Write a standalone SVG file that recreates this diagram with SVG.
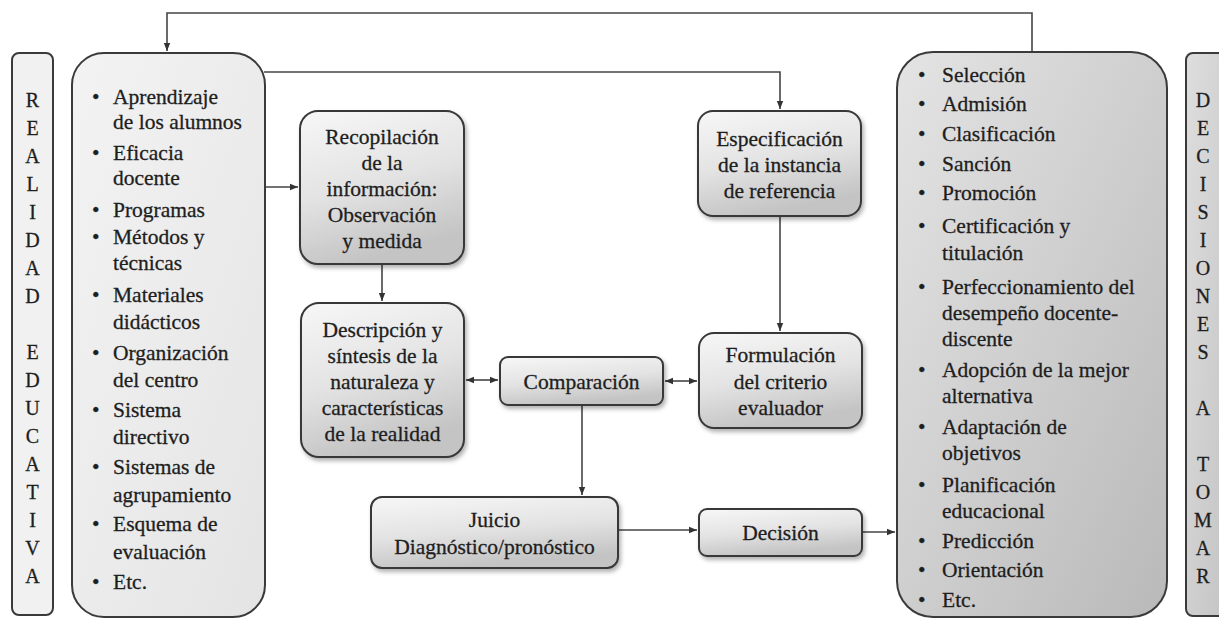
<svg xmlns="http://www.w3.org/2000/svg" width="1219" height="619" viewBox="0 0 1219 619" font-family="Liberation Serif, Times New Roman, serif">
<style>
text{font-size:21.5px;fill:#1e1e1e;stroke:#1e1e1e;stroke-width:0.3px}
.c{text-anchor:middle}
.box{stroke:#383838;stroke-width:2;fill:url(#gBox);filter:url(#sh)}
.conn{fill:none;stroke:#454545;stroke-width:1.6}
.ltr{text-anchor:middle;font-size:20px}
</style>
<defs>
<linearGradient id="gBox" x1="0" y1="0" x2="0.3" y2="1">
<stop offset="0" stop-color="#f7f7f7"/><stop offset="0.55" stop-color="#e3e3e3"/><stop offset="1" stop-color="#c4c4c4"/>
</linearGradient>
<linearGradient id="gLeft" x1="0" y1="0" x2="1" y2="1">
<stop offset="0" stop-color="#f3f3f3"/><stop offset="1" stop-color="#e4e4e4"/>
</linearGradient>
<linearGradient id="gRight" x1="0" y1="0" x2="1" y2="1">
<stop offset="0" stop-color="#e4e4e4"/><stop offset="1" stop-color="#b9b9b9"/>
</linearGradient>
<linearGradient id="gRN" x1="0" y1="0" x2="1" y2="1">
<stop offset="0" stop-color="#dedede"/><stop offset="1" stop-color="#c2c2c2"/>
</linearGradient>
<filter id="sh" x="-10%" y="-10%" width="130%" height="130%">
<feDropShadow dx="2" dy="3" stdDeviation="2" flood-color="#000" flood-opacity="0.3"/>
</filter>
<marker id="ah" viewBox="0 0 10 10" refX="10" refY="5" markerWidth="9" markerHeight="8" orient="auto-start-reverse" markerUnits="userSpaceOnUse">
<path d="M0,1 L10,5 L0,9 z" fill="#333"/>
</marker>
</defs>
<rect width="1219" height="619" fill="#ffffff"/>

<g id="connectors">
<path class="conn" d="M1032,53 V13 H167 V51" marker-end="url(#ah)"/>
<path class="conn" d="M264,72 H780 V109" marker-end="url(#ah)"/>
<path class="conn" d="M265,187 H298" marker-end="url(#ah)"/>
<path class="conn" d="M382,264 V301" marker-end="url(#ah)"/>
<path class="conn" d="M466,380 H498" marker-start="url(#ah)" marker-end="url(#ah)"/>
<path class="conn" d="M665,381 H697" marker-start="url(#ah)" marker-end="url(#ah)"/>
<path class="conn" d="M780,216 V331" marker-end="url(#ah)"/>
<path class="conn" d="M582,405 V495" marker-end="url(#ah)"/>
<path class="conn" d="M618,530 H697" marker-end="url(#ah)"/>
<path class="conn" d="M862,532 H895" marker-end="url(#ah)"/>
</g>

<g id="realidad-educativa">
<rect x="12" y="53" width="41" height="562" rx="7" fill="#f1f1f1" stroke="#3a3a3a" stroke-width="2"/>
<text class="ltr" x="32.5" y="107">R</text>
<text class="ltr" x="32.5" y="135">E</text>
<text class="ltr" x="32.5" y="163">A</text>
<text class="ltr" x="32.5" y="191">L</text>
<text class="ltr" x="32.5" y="219">I</text>
<text class="ltr" x="32.5" y="247">D</text>
<text class="ltr" x="32.5" y="275">A</text>
<text class="ltr" x="32.5" y="303">D</text>
<text class="ltr" x="32.5" y="359">E</text>
<text class="ltr" x="32.5" y="387">D</text>
<text class="ltr" x="32.5" y="415">U</text>
<text class="ltr" x="32.5" y="443">C</text>
<text class="ltr" x="32.5" y="471">A</text>
<text class="ltr" x="32.5" y="499">T</text>
<text class="ltr" x="32.5" y="527">I</text>
<text class="ltr" x="32.5" y="555">V</text>
<text class="ltr" x="32.5" y="583">A</text>
</g>

<g id="realidad-lista">
<rect x="72" y="53" width="193" height="564" rx="32" fill="url(#gLeft)" stroke="#3a3a3a" stroke-width="2"/>
<text x="92" y="104">•</text><text x="113" y="104">Aprendizaje</text>
<text x="113" y="129">de los alumnos</text>
<text x="92" y="160">•</text><text x="113" y="160">Eficacia</text>
<text x="113" y="185">docente</text>
<text x="92" y="217">•</text><text x="113" y="217">Programas</text>
<text x="92" y="244">•</text><text x="113" y="244">Métodos y</text>
<text x="113" y="270">técnicas</text>
<text x="92" y="302">•</text><text x="113" y="302">Materiales</text>
<text x="113" y="329">didácticos</text>
<text x="92" y="360">•</text><text x="113" y="360">Organización</text>
<text x="113" y="387">del centro</text>
<text x="92" y="417">•</text><text x="113" y="417">Sistema</text>
<text x="113" y="444">directivo</text>
<text x="92" y="474">•</text><text x="113" y="474">Sistemas de</text>
<text x="113" y="502">agrupamiento</text>
<text x="92" y="531">•</text><text x="113" y="531">Esquema de</text>
<text x="113" y="559">evaluación</text>
<text x="92" y="589">•</text><text x="113" y="589">Etc.</text>
</g>

<g id="recopilacion">
<rect class="box" x="300" y="111" width="164" height="153" rx="18"/>
<text class="c" x="382" y="144">Recopilación</text>
<text class="c" x="382" y="170">de la</text>
<text class="c" x="382" y="196">información:</text>
<text class="c" x="382" y="222">Observación</text>
<text class="c" x="382" y="248">y medida</text>
</g>

<g id="descripcion">
<rect class="box" x="301" y="303" width="163" height="154" rx="18"/>
<text class="c" x="382.5" y="337">Descripción y</text>
<text class="c" x="382.5" y="363">síntesis de la</text>
<text class="c" x="382.5" y="389">naturaleza y</text>
<text class="c" x="382.5" y="415">características</text>
<text class="c" x="382.5" y="441">de la realidad</text>
</g>

<g id="comparacion">
<rect class="box" x="500" y="357" width="163" height="48" rx="8"/>
<text class="c" x="581.5" y="389">Comparación</text>
</g>

<g id="especificacion">
<rect class="box" x="698" y="111" width="163" height="105" rx="15"/>
<text class="c" x="779.5" y="146">Especificación</text>
<text class="c" x="779.5" y="172">de la instancia</text>
<text class="c" x="779.5" y="198">de referencia</text>
</g>

<g id="formulacion">
<rect class="box" x="699" y="333" width="163" height="95" rx="15"/>
<text class="c" x="780.5" y="362">Formulación</text>
<text class="c" x="780.5" y="389">del criterio</text>
<text class="c" x="780.5" y="415">evaluador</text>
</g>

<g id="juicio">
<rect class="box" x="371" y="497" width="247" height="71" rx="11"/>
<text class="c" x="494.5" y="527">Juicio</text>
<text class="c" x="494.5" y="554">Diagnóstico/pronóstico</text>
</g>

<g id="decision">
<rect class="box" x="699" y="509" width="163" height="47" rx="8"/>
<text class="c" x="780.5" y="540">Decisión</text>
</g>

<g id="decisiones-lista">
<rect x="897" y="52" width="270" height="565" rx="36" fill="url(#gRight)" stroke="#3a3a3a" stroke-width="2"/>
<text x="918" y="82">•</text><text x="942" y="82">Selección</text>
<text x="918" y="111">•</text><text x="942" y="111">Admisión</text>
<text x="918" y="141">•</text><text x="942" y="141">Clasificación</text>
<text x="918" y="171">•</text><text x="942" y="171">Sanción</text>
<text x="918" y="200">•</text><text x="942" y="200">Promoción</text>
<text x="918" y="233">•</text><text x="942" y="233">Certificación y</text>
<text x="942" y="260">titulación</text>
<text x="918" y="294">•</text><text x="942" y="294">Perfeccionamiento del</text>
<text x="942" y="320">desempeño docente-</text>
<text x="942" y="346">discente</text>
<text x="918" y="377">•</text><text x="942" y="377">Adopción de la mejor</text>
<text x="942" y="403">alternativa</text>
<text x="918" y="434">•</text><text x="942" y="434">Adaptación de</text>
<text x="942" y="460">objetivos</text>
<text x="918" y="492">•</text><text x="942" y="492">Planificación</text>
<text x="942" y="518">educacional</text>
<text x="918" y="548">•</text><text x="942" y="548">Predicción</text>
<text x="918" y="577">•</text><text x="942" y="577">Orientación</text>
<text x="918" y="607">•</text><text x="942" y="607">Etc.</text>
</g>

<g id="decisiones-a-tomar">
<rect x="1186" y="53" width="48" height="563" rx="7" fill="url(#gRN)" stroke="#3a3a3a" stroke-width="2"/>
<text class="ltr" x="1203" y="107">D</text>
<text class="ltr" x="1203" y="135">E</text>
<text class="ltr" x="1203" y="163">C</text>
<text class="ltr" x="1203" y="191">I</text>
<text class="ltr" x="1203" y="219">S</text>
<text class="ltr" x="1203" y="247">I</text>
<text class="ltr" x="1203" y="275">O</text>
<text class="ltr" x="1203" y="303">N</text>
<text class="ltr" x="1203" y="331">E</text>
<text class="ltr" x="1203" y="359">S</text>
<text class="ltr" x="1203" y="415">A</text>
<text class="ltr" x="1203" y="471">T</text>
<text class="ltr" x="1203" y="499">O</text>
<text class="ltr" x="1203" y="527">M</text>
<text class="ltr" x="1203" y="555">A</text>
<text class="ltr" x="1203" y="583">R</text>
</g>
</svg>
